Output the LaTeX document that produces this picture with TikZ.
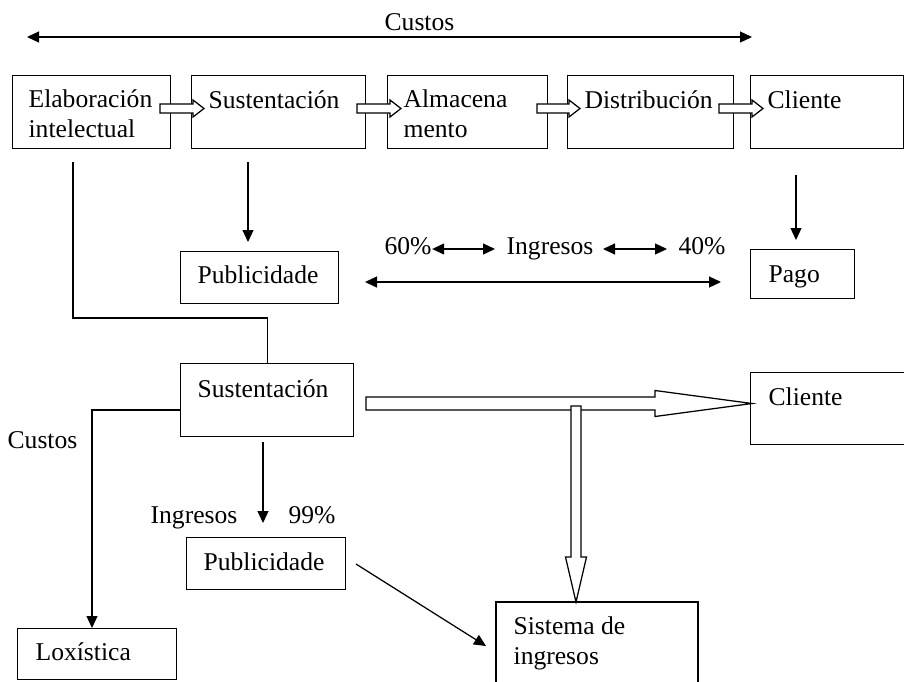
\documentclass[tikz,border=0pt]{standalone}
\usepackage{fontspec}
\setmainfont{Liberation Serif}
\usetikzlibrary{arrows.meta}

% hollow block arrow pointing right: x start, x head start, x tip, y centre, shaft half height, head half height
\newcommand\hollowright[6]{%
  \draw[hollow] (#1,#4-#5) -- (#2,#4-#5) -- (#2,#4-#6) -- (#3,#4)
    -- (#2,#4+#6) -- (#2,#4+#5) -- (#1,#4+#5) -- cycle;}
% hollow block arrow pointing down: x centre, y start, y head start, y tip, shaft half width, head half width
\newcommand\hollowdown[6]{%
  \draw[hollow] (#1-#5,#2) -- (#1-#5,#3) -- (#1-#6,#3) -- (#1,#4)
    -- (#1+#6,#3) -- (#1+#5,#3) -- (#1+#5,#2) -- cycle;}

\begin{document}
\begin{tikzpicture}[x=1pt,y=-1pt,line width=1.25pt,
  box/.style={draw,rectangle,inner sep=0pt,anchor=north west},
  lbl/.style={inner sep=0pt,anchor=base west,align=left,
    font=\fontsize{25.6}{29.5}\selectfont},
  arr/.style={-{Triangle[length=12pt,width=11pt]}},
  darr/.style={{Triangle[length=12pt,width=11pt]}-{Triangle[length=12pt,width=11pt]}},
  hollow/.style={draw,fill=white,line join=miter}]

\useasboundingbox (0,0) rectangle (904,681);

% ---- top chain ----
\node[lbl] (custosT) at (384,30) {Custos};
\coordinate (cL) at (27,37);
\coordinate (cR) at (752,37);
\draw[darr] (cL) -- (cR);

\node[box,minimum width=158pt,minimum height=73pt] (elab) at (12,75) {};
\node[box,minimum width=174pt,minimum height=73pt] (sust) at (191,75) {};
\node[box,minimum width=160pt,minimum height=73pt] (alma) at (387,75) {};
\node[box,minimum width=166pt,minimum height=73pt] (dist) at (567,75) {};
\node[box,minimum width=153pt,minimum height=73pt] (clie) at (750,75) {};

% two-line labels are placed by the baseline of their last line
\node[lbl] (tElab) at (28,137) {Elaboración\\intelectual};
\node[lbl] (tSust) at (208,108) {Sustentación};
\node[lbl] (tAlma) at (403,137) {Almacena\\mento};
\node[lbl] (tDist) at (584,108) {Distribución};
\node[lbl] (tClie) at (767,108) {Cliente};

\hollowright{160}{193}{204}{108.5}{4.5}{8.5}
\hollowright{357}{390}{401}{108.5}{4.5}{8.5}
\hollowright{537}{569}{580}{108.5}{4.5}{8.5}
\hollowright{719}{752}{763}{108.5}{4.5}{8.5}

% ---- income split ----
\node[box,minimum width=158pt,minimum height=52pt] (pub1) at (180,251) {};
\node[lbl] (tPub1) at (197,283) {Publicidade};
\node[box,minimum width=104pt,minimum height=49pt] (pago) at (750,249) {};
\node[lbl] (tPago) at (768,282) {Pago};

\coordinate (s1a) at (248,162);
\coordinate (s1b) at (248,242);
\draw[arr] (s1a) -- (s1b);
\coordinate (c1a) at (796,175);
\coordinate (c1b) at (796,240);
\draw[arr] (c1a) -- (c1b);

\node[lbl] (p60) at (384,254) {60\%};
\node[lbl] (ingT) at (506,254) {Ingresos};
\node[lbl] (p40) at (678,254) {40\%};
\draw[darr] (p60.east |- 0,249) -- (495,249);
\draw[darr] (603,249) -- (667,249);
\coordinate (iL) at (365,282);
\coordinate (iR) at (721,282);
\draw[darr] (iL) -- (iR);

% ---- second scheme ----
\node[box,minimum width=173pt,minimum height=73pt] (sus2) at (180,363) {};
\node[lbl] (tSus2) at (197,397) {Sustentación};
\coordinate (e1) at (73,162);
\draw (e1) -- (73,318) -| (sus2.north);

\node[box,minimum width=155pt,minimum height=72pt] (cli2) at (750,372) {};
\node[lbl] (tCli2) at (768,405) {Cliente};

\node[box,minimum width=159pt,minimum height=51pt] (lox) at (17,628) {};
\node[lbl] (tLox) at (35,660) {Loxística};
\node[lbl] (custosL) at (7,448) {Custos};
\draw[arr] (sus2.west |- 0,410) -| (lox.north -| 92,0);

\node[box,minimum width=159pt,minimum height=52pt] (pub2) at (186,537) {};
\node[lbl] (tPub2) at (203,570) {Publicidade};
\node[lbl] (ing2) at (150,523) {Ingresos};
\node[lbl] (p99) at (288,523) {99\%};
\coordinate (s2a) at (263,442);
\coordinate (s2b) at (263,523);
\draw[arr] (s2a) -- (s2b);

% system box, open at the lower edge
\coordinate (sisNW) at (496,602);
\draw (496,690) -- (sisNW) -- (698,602) -- (698,690);
\node[lbl] (tSis) at (513,664) {Sistema de\\ingresos};

\coordinate (dA) at (356,564);
\coordinate (dB) at (486,646);
\draw[arr] (dA) -- (dB);

\hollowright{366}{655}{752}{403.5}{6.5}{13}
\hollowdown{576}{406}{557}{602}{5}{10.5}

\end{tikzpicture}
\end{document}
